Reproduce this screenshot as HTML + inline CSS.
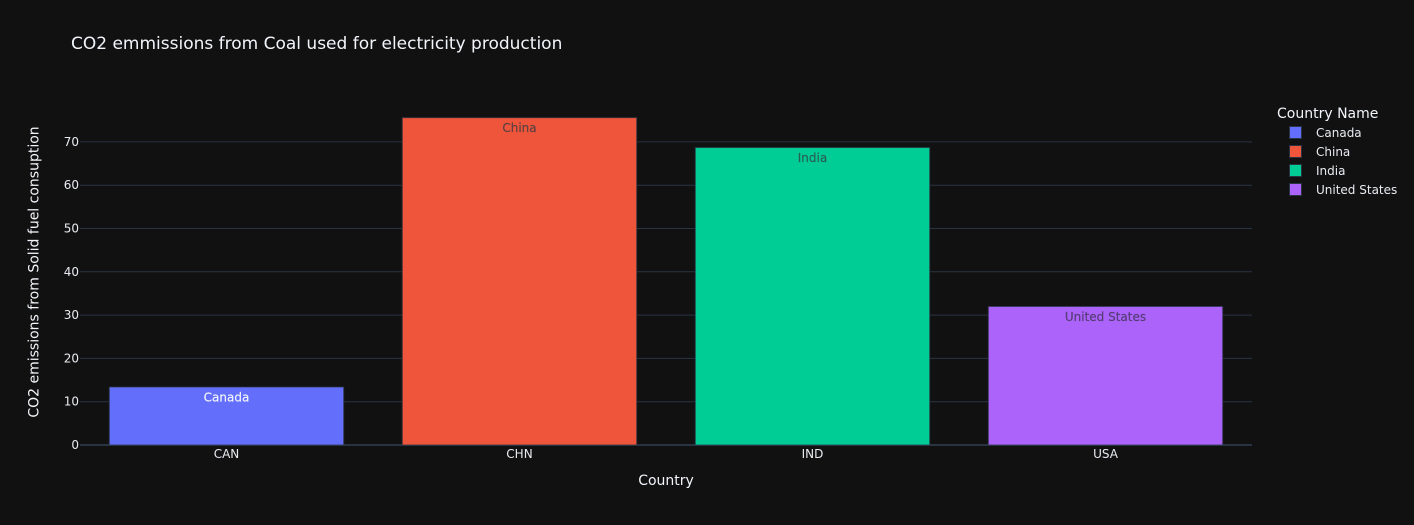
<!DOCTYPE html>
<html>
<head>
<meta charset="utf-8">
<title>CO2 emissions chart</title>
<style>
html,body{margin:0;padding:0;background:#111111;width:1414px;height:525px;overflow:hidden}
svg{display:block;font-family:"DejaVu Sans","Liberation Sans",sans-serif}
</style>
</head>
<body>
<svg id="chart" width="1414" height="525" viewBox="0 0 1414 525" xmlns="http://www.w3.org/2000/svg">
<rect width="1414" height="525" fill="#111111"/>
<text x="71" y="49" font-size="17" fill="#f2f5fa">CO2 emmissions from Coal used for electricity production</text>
<text x="666" y="485" font-size="14" fill="#f2f5fa" text-anchor="middle">Country</text>
<text transform="translate(38.5,272) rotate(-90)" font-size="14" fill="#f2f5fa" text-anchor="middle">CO2 emissions from Solid fuel consuption</text>
<g id="grid"></g>
<g id="bars"></g>
<g id="xticks"></g>
<g id="yticks"></g>
<g id="legend">
<text x="1277" y="118" font-size="14" fill="#f2f5fa">Country Name</text>
</g>
</svg>
<script>
const categories = ['CAN', 'CHN', 'IND', 'USA'];
const countryNames = ['Canada', 'China', 'India', 'United States'];
const values = [13.4, 75.6, 68.7, 32.0];
const yTickValues = [0, 10, 20, 30, 40, 50, 60, 70];
const colors = ['#636efa', '#EF553B', '#00cc96', '#ab63fa'];
const labelColors = ['#f2f5fa', '#5c4040', '#2a5f52', '#553c75'];

const NS = 'http://www.w3.org/2000/svg';
const plotLeft = 80, plotRight = 1252, plotBottom = 445, unitPx = 4.33, barRatio = 0.8;
const bandWidth = (plotRight - plotLeft) / categories.length;
const xScale = i => plotLeft + bandWidth * (i + 0.5);
const yScale = v => plotBottom - v * unitPx;

function make(tag, attrs, text) {
  const el = document.createElementNS(NS, tag);
  for (const k in attrs) el.setAttribute(k, attrs[k]);
  if (text !== undefined) el.textContent = text;
  return el;
}

const gridG = document.getElementById('grid');
const yG = document.getElementById('yticks');
yTickValues.forEach(v => {
  const y = yScale(v);
  const line = make('line', {x1: plotLeft, x2: plotRight, y1: y, y2: y, stroke: '#283442', 'stroke-width': v === 0 ? 2 : 1});
  
  
  gridG.appendChild(line);
  const t = make('text', {x: 79, y: y + 4, 'font-size': 12, fill: '#e8ebf0', 'text-anchor': 'end'}, String(v));
  
  
  yG.appendChild(t);
});

const barsG = document.getElementById('bars');
const xG = document.getElementById('xticks');
categories.forEach((c, i) => {
  const cx = xScale(i), w = bandWidth * barRatio, top = yScale(values[i]);
  const r = make('rect', {x: cx - w / 2, y: top, width: w, height: plotBottom - top, fill: colors[i], stroke: '#283442', 'stroke-opacity': 0.75, 'stroke-width': 1});
  
  
  barsG.appendChild(r);
  const l = make('text', {x: cx, y: top + 14.5, 'font-size': 12, fill: labelColors[i], stroke: labelColors[i], 'stroke-width': 0.15, 'text-anchor': 'middle'}, countryNames[i]);
  
  
  barsG.appendChild(l);
  const t = make('text', {x: cx, y: 458, 'font-size': 12, fill: '#e8ebf0', 'text-anchor': 'middle'}, c);
  
  
  xG.appendChild(t);
});

const legendG = document.getElementById('legend');
countryNames.forEach((n, i) => {
  const y = 132.5 + i * 19;
  const s = make('rect', {x: 1289.5, y: y - 6, width: 12, height: 12, fill: colors[i], stroke: '#283442', 'stroke-width': 1});
  
  
  legendG.appendChild(s);
  const t = make('text', {x: 1316, y: y + 4.5, 'font-size': 12, fill: '#e8ebf0'}, n);
  
  
  legendG.appendChild(t);
});
</script>
</body>
</html>
